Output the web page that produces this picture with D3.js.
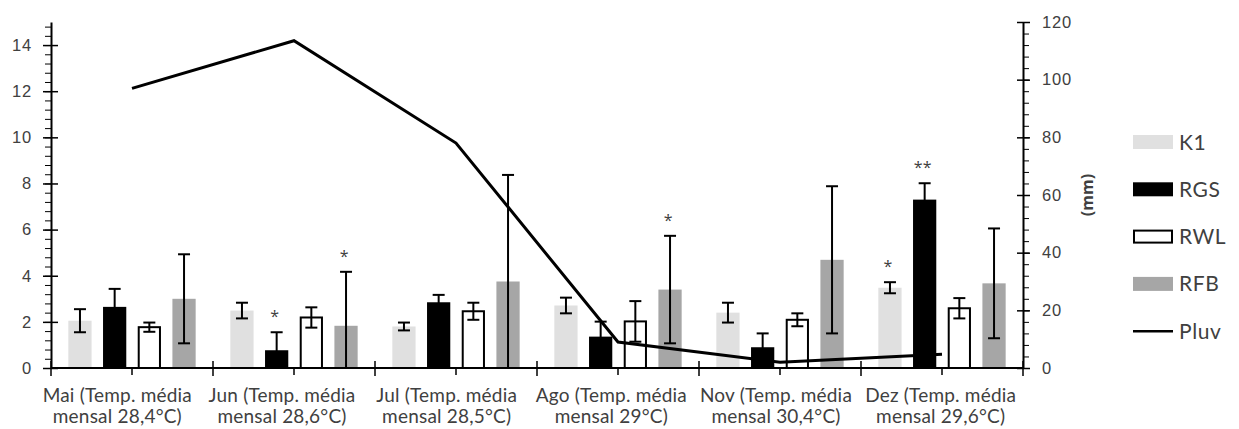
<!DOCTYPE html>
<html>
<head>
<meta charset="utf-8">
<script src="https://cdn.jsdelivr.net/npm/d3@7"></script>
<style>
  body { margin: 0; background: #fff; }
  svg { display: block; font-family: Lato, "Open Sans", sans-serif; }
</style>
</head>
<body>
<div id="box"></div>
<script>
// 数据
const catLine1 = ['Mai (Temp. média', 'Jun (Temp. média', 'Jul (Temp. média', 'Ago (Temp. média', 'Nov (Temp. média', 'Dez (Temp. média']
const catLine2 = ['mensal 28,4°C)', 'mensal 28,6°C)', 'mensal 28,5°C)', 'mensal 29°C)', 'mensal 30,4°C)', 'mensal 29,6°C)']
const seriesNames = ['K1', 'RGS', 'RWL', 'RFB']

const k1 = [2.05, 2.49, 1.8, 2.71, 2.4, 3.48]
const k1Err = [0.5, 0.34, 0.17, 0.34, 0.43, 0.24]
const rgs = [2.65, 0.77, 2.85, 1.36, 0.9, 7.3]
const rgsErr = [0.78, 0.78, 0.32, 0.65, 0.6, 0.71]
const rwl = [1.77, 2.19, 2.46, 2.02, 2.09, 2.59]
const rwlErr = [0.2, 0.44, 0.37, 0.88, 0.28, 0.44]
const rfb = [3.0, 1.83, 3.75, 3.4, 4.69, 3.67]
const rfbErr = [1.93, 2.34, 4.62, 2.33, 3.19, 2.38]
// 显著性标记
const k1Sig = ['', '', '', '', '', '*']
const rgsSig = ['', '*', '', '', '', '**']
const rwlSig = ['', '', '', '', '', '']
const rfbSig = ['', '*', '', '*', '', '']
// 降雨量 (mm)
const pluv = [97, 113.5, 78, 9, 2, 4.8]

const leftTicks = [0, 2, 4, 6, 8, 10, 12, 14]
const rightTicks = [0, 20, 40, 60, 80, 100, 120]

// 画布
const width = 1239
const height = 429
const margin = {top: 22, left: 51, right: 216, bottom: 61}
const plotR = width - margin.right
const plotB = height - margin.bottom

const values = [k1, rgs, rwl, rfb]
const errs = [k1Err, rgsErr, rwlErr, rfbErr]
const sigs = [k1Sig, rgsSig, rwlSig, rfbSig]
const fills = ['#e0e0e0', '#000000', '#ffffff', '#a6a6a6']
const strokes = ['none', 'none', '#000', 'none']
const textColor = '#404040'

const idx = d3.range(catLine1.length)
const x = d3.scaleBand().domain(idx).range([margin.left, plotR])
const xs = d3.scaleBand().domain(seriesNames).range([0, x.bandwidth()]).paddingInner(0.33).paddingOuter(0.5)
// 类别标签稍微偏左
const xLabel = d3.scaleBand().domain(idx).range([margin.left - 16, plotR])
const yL = d3.scaleLinear().domain([0, 15]).range([plotB, margin.top])
const yR = d3.scaleLinear().domain([0, 120]).range([plotB, margin.top])

const svg = d3.select('#box').append('svg')
  .attr('width', width)
  .attr('height', height)

// 数据条目展开
const rows = []
seriesNames.forEach((s, si) => {
  idx.forEach(i => {
    rows.push({s, si, i, v: values[si][i], e: errs[si][i], sig: sigs[si][i]})
  })
})
const cx = d => x(d.i) + xs(d.s) + xs.bandwidth() / 2

// 条形
svg.append('g').selectAll('rect').data(rows).join('rect')
  .attr('x', d => x(d.i) + xs(d.s) + (d.si === 2 ? 1 : 0))
  .attr('y', d => yL(d.v))
  .attr('width', d => xs.bandwidth() - (d.si === 2 ? 2 : 0))
  .attr('height', d => yL(0) - yL(d.v))
  .attr('fill', d => fills[d.si])
  .attr('stroke', d => strokes[d.si])
  .attr('stroke-width', 2)

// 误差线
const eb = svg.append('g').attr('stroke', '#000').attr('stroke-width', 2)
eb.selectAll('line.v').data(rows).join('line').attr('class', 'v')
  .attr('x1', cx).attr('x2', cx)
  .attr('y1', d => yL(d.v + d.e))
  .attr('y2', d => yL(Math.max(0, d.v - d.e)))
eb.selectAll('line.top').data(rows).join('line').attr('class', 'top')
  .attr('x1', d => cx(d) - 6).attr('x2', d => cx(d) + 6)
  .attr('y1', d => yL(d.v + d.e))
  .attr('y2', d => yL(d.v + d.e))
eb.selectAll('line.bot').data(rows).join('line').attr('class', 'bot')
  .attr('x1', d => cx(d) - 6).attr('x2', d => cx(d) + 6)
  .attr('y1', d => yL(Math.max(0, d.v - d.e)))
  .attr('y2', d => yL(Math.max(0, d.v - d.e)))

// 星号
svg.append('g').style('font-family', '"Open Sans", sans-serif').style('font-size', '16px')
  .attr('fill', textColor).attr('text-anchor', 'middle')
  .selectAll('text').data(rows.filter(d => d.sig)).join('text')
  .attr('x', d => cx(d) - 2)
  .attr('y', d => yL(d.v + d.e) - 10)
  .text(d => d.sig)

// 左轴
const leftAxis = svg.append('g').attr('transform', `translate(${margin.left},0)`)
leftAxis.call(d3.axisLeft(yL).tickValues(d3.range(0, 15, 0.4)).tickSize(6).tickSizeOuter(0).tickFormat(''))
leftAxis.select('.domain').remove()
leftAxis.selectAll('line').attr('stroke', '#000')
const leftMajor = svg.append('g').attr('transform', `translate(${margin.left},0)`)
leftMajor.call(d3.axisLeft(yL).tickValues(leftTicks).tickSize(8).tickSizeOuter(0).tickPadding(11))
leftMajor.select('.domain').attr('stroke', '#000').attr('stroke-width', 2)
leftMajor.selectAll('.tick line').attr('x1', 7).attr('stroke-width', 1.5)
leftMajor.selectAll('text').style('font-size', '16.5px').attr('fill', textColor).style('letter-spacing', '0.8px')

// 右轴
const rightAxis = svg.append('g').attr('transform', `translate(${plotR},0)`)
rightAxis.call(d3.axisRight(yR).tickValues(d3.range(0, 121, 4)).tickSize(6).tickSizeOuter(0).tickFormat(''))
rightAxis.select('.domain').remove()
rightAxis.selectAll('line').attr('stroke', '#000')
const rightMajor = svg.append('g').attr('transform', `translate(${plotR},0)`)
rightMajor.call(d3.axisRight(yR).tickValues(rightTicks).tickSize(7).tickSizeOuter(0).tickPadding(12))
rightMajor.select('.domain').attr('stroke', '#000').attr('stroke-width', 2)
rightMajor.selectAll('.tick line').attr('x1', -6).attr('stroke-width', 1.5)
rightMajor.selectAll('text').style('font-size', '16.5px').attr('fill', textColor).style('letter-spacing', '0.8px')

svg.append('text')
  .attr('transform', `translate(${plotR + 64},${yR(60)}) rotate(-90)`)
  .attr('text-anchor', 'middle')
  .attr('dy', '0.35em')
  .style('font-family', '"Open Sans", sans-serif')
  .style('font-size', '16px')
  .style('font-weight', 'bold')
  .attr('fill', textColor)
  .text('(mm)')

// X 轴
const xAxis = svg.append('g').attr('stroke', '#000')
xAxis.append('line')
  .attr('x1', margin.left).attr('x2', plotR)
  .attr('y1', plotB).attr('y2', plotB)
  .attr('stroke-width', 2)
xAxis.selectAll('line.b').data(idx.concat([idx.length])).join('line').attr('class', 'b')
  .attr('x1', i => i < idx.length ? x(i) : plotR)
  .attr('x2', i => i < idx.length ? x(i) : plotR)
  .attr('y1', plotB - 7).attr('y2', plotB + 8)
  .attr('stroke-width', 1.5)
xAxis.selectAll('line.c').data(idx).join('line').attr('class', 'c')
  .attr('x1', i => x(i) + x.bandwidth() / 2)
  .attr('x2', i => x(i) + x.bandwidth() / 2)
  .attr('y1', plotB).attr('y2', plotB + 7)
  .attr('stroke-width', 1.5)

const xl = svg.append('g').style('font-size', '19px').attr('fill', textColor)
  .attr('text-anchor', 'middle').style('letter-spacing', '0.2px')
xl.selectAll('text.l1').data(idx).join('text').attr('class', 'l1')
  .attr('x', i => xLabel(i) + xLabel.bandwidth() / 2)
  .attr('y', plotB + 34)
  .text(i => catLine1[i])
xl.selectAll('text.l2').data(idx).join('text').attr('class', 'l2')
  .attr('x', i => xLabel(i) + xLabel.bandwidth() / 2)
  .attr('y', plotB + 55)
  .text(i => catLine2[i])

// 降雨量折线
const line = d3.line()
  .x((d, i) => x(i) + x.bandwidth() / 2)
  .y(d => yR(d))
svg.append('path')
  .datum(pluv)
  .attr('d', line)
  .attr('fill', 'none')
  .attr('stroke', '#000')
  .attr('stroke-width', 3)

// 图例
const legendItems = seriesNames.concat(['Pluv'])
const legend = svg.append('g').attr('transform', 'translate(1133,142)')
const li = legend.selectAll('g').data(legendItems).join('g')
  .attr('transform', (d, i) => `translate(0,${i * 47.3})`)
li.filter((d, i) => i < 4).append('rect')
  .attr('x', (d, i) => i === 2 ? 1 : 0)
  .attr('y', (d, i) => i === 2 ? -6 : -7)
  .attr('width', (d, i) => i === 2 ? 38 : 40)
  .attr('height', (d, i) => i === 2 ? 12 : 14)
  .attr('fill', (d, i) => fills[i])
  .attr('stroke', (d, i) => strokes[i])
  .attr('stroke-width', 2)
li.filter((d, i) => i === 4).append('line')
  .attr('x1', 0).attr('x2', 40)
  .attr('stroke', '#000').attr('stroke-width', 2.5)
li.append('text')
  .attr('x', 46)
  .attr('y', 7.5)
  .style('font-size', '21px')
  .style('letter-spacing', '0.6px')
  .attr('fill', textColor)
  .text(d => d)
</script>
</body>
</html>
